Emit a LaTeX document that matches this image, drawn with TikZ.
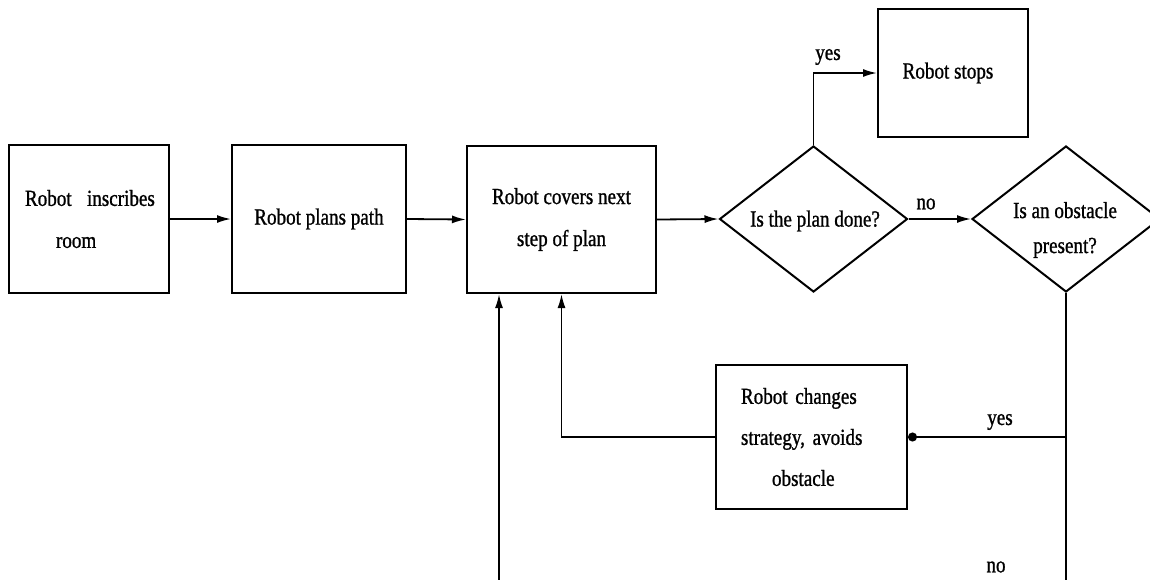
\documentclass[tikz,border=0pt]{standalone}
\usepackage{fontspec}
\setmainfont{Liberation Serif}[FakeStretch=0.83,FakeBold=1.0]
\usetikzlibrary{shapes.geometric,arrows.meta}
\begin{document}
\begin{tikzpicture}[x=1pt,y=-1pt,
  box/.style={draw,line width=2pt,inner sep=0pt,align=center,font=\fontsize{23}{42}\selectfont},
  dia/.style={draw,diamond,line width=2pt,inner sep=0pt,aspect=1.29,minimum width=188pt,minimum height=146pt},
  lab/.style={font=\fontsize{23}{28}\selectfont,inner sep=0pt},
  conn/.style={line width=1.8pt,-{Latex[length=14pt,width=8pt]}},
  dotconn/.style={line width=1.8pt,-{Circle[length=9pt]}},
  plain/.style={line width=1.8pt}]
\useasboundingbox (0,0) rectangle (1150,579);
\clip (0,0) rectangle (1150,579);
\node[box,minimum width=160pt,minimum height=148pt,align=left,text width=128pt] (b1) at (89,219) {\mbox{Robot\ \ inscribes}\\\hspace*{31pt}room};
\node[box,minimum width=174pt,minimum height=148pt] (b2) at (319,219) {Robot plans path};
\node[box,minimum width=189pt,minimum height=147pt] (b3) at (561.5,219.5) {Robot covers next\\step of plan};
\node[dia] (d1) at (813.5,219) {};
\node[lab] (d1t) at (815,221) {Is the plan done?};
\node[dia] (d2) at (1066,219) {};
\node[lab,align=center,font=\fontsize{23}{35}\selectfont] (d2t) at (1065,230) {Is an obstacle\\present?};
\node[box,minimum width=150pt,minimum height=128pt] (stops) at (953,73) {Robot stops\hspace*{10pt}};
\node[box,minimum width=191pt,minimum height=144pt,font=\fontsize{23}{41}\selectfont,align=left,text width=141pt] (chg) at (811.5,437) {\mbox{Robot changes}\\\mbox{strategy, avoids}\\\hspace*{31pt}obstacle};
\draw[conn] (b1.east) -- (b2.west);
\draw[conn] (b2.east) -- (b3.west);
\draw[conn] (b3.east) -- (d1.west);
\draw[conn] (d1.east) -- (d2.west);
\draw[conn] (d1.north) |- (stops.west);
\coordinate (j) at (d2.south |- chg.east);
\coordinate (br) at (1066,620);
\coordinate (bl) at (499,620);
\draw[plain] (d2.south) -- (j);
\draw[dotconn] (j) -- (chg.east);
\draw[conn] (chg.west) -| (b3.south);
\draw[conn] (j) -- (br) -- (bl) -- (bl |- b3.south);
\node[lab] (lyes1) at (828,57) {yes};
\node[lab] (lno1) at (926,204) {no};
\node[lab] (lyes2) at (1000,422) {yes};
\node[lab] (lno2) at (996,567) {no};
\end{tikzpicture}
\end{document}
